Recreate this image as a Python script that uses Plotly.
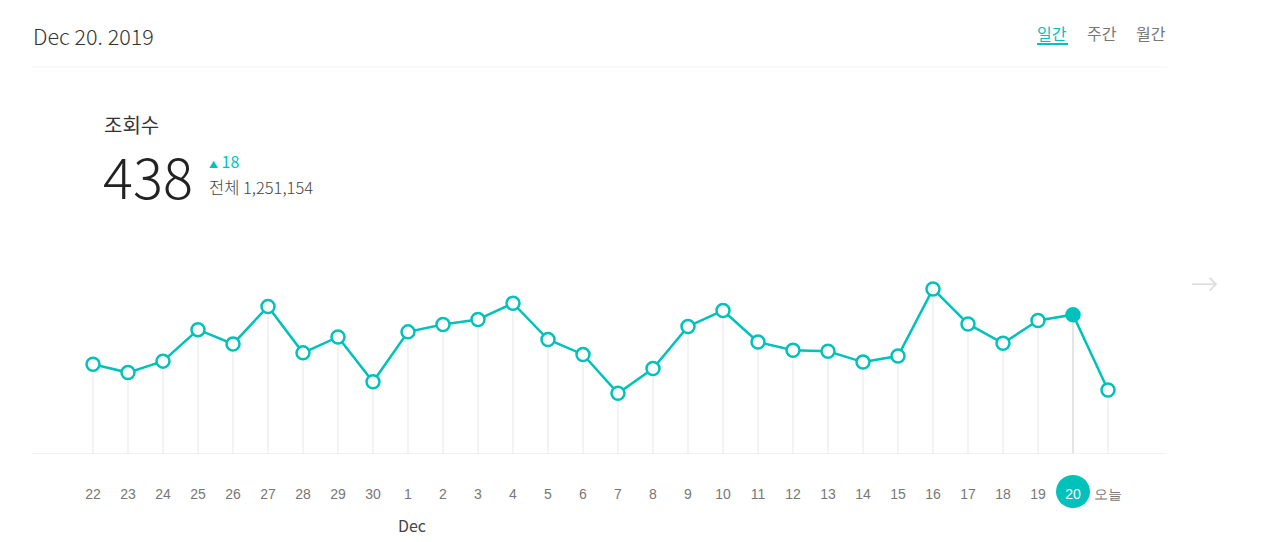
import plotly.graph_objects as go

# ---- data ----
day_labels = ["22", "23", "24", "25", "26", "27", "28", "29", "30", "1", "2", "3", "4", "5", "6",
              "7", "8", "9", "10", "11", "12", "13", "14", "15", "16", "17", "18", "19", "20", "오늘"]
views = [282, 256, 292, 391, 346, 464, 318, 368, 227, 384, 407, 423, 474, 360, 313,
         191, 269, 401, 451, 352, 326, 323, 289, 308, 519, 409, 348, 420, 438, 201]
selected_label = "20"
header_date = "Dec 20. 2019"
month_label = "Dec"
month_start_label = "1"
tabs = ["일간", "주간", "월간"]
metric_title = "조회수"
metric_value = "438"
metric_delta = "18"
metric_total = "전체 1,251,154"

TEAL = "#00c2bb"
FONT_KR = "Noto Sans CJK KR"
FONT_TICK = "Liberation Sans"

OFF = 8  # page body margin
W, H = 1280 - OFF, 542 - OFF
L, T = 32 - OFF, 250 - OFF
R = W - (1167 - OFF)
B = H - (454 - OFF)
PW, PH = W - L - R, H - T - B


def px(x):
    # reference-picture pixel x -> paper fraction
    return (x - OFF - L) / PW


def py(y):
    # reference-picture pixel y -> paper fraction
    return (H - B - (y - OFF)) / PH


xs = list(range(len(views)))
sel = day_labels.index(selected_label)
x_range = [(32 - 93) / 35, (1167 - 93) / 35]

fig = go.Figure()

# vertical drop lines
for i, v in zip(xs, views):
    fig.add_trace(go.Scatter(
        x=[i, i], y=[0, v], mode="lines",
        line=dict(color="#dcdcdc" if i == sel else "#efefef", width=1.5),
        hoverinfo="skip", showlegend=False))

# main line
fig.add_trace(go.Scatter(
    x=xs, y=views, mode="lines+markers",
    line=dict(color=TEAL, width=2.5),
    marker=dict(size=13, symbol="circle",
                color=[TEAL if i == sel else "white" for i in xs],
                line=dict(color=TEAL, width=2.5)),
    showlegend=False))

ticktext = [f"<span style='color:white'>{t}</span>" if t == selected_label else t for t in day_labels]

fig.update_xaxes(
    range=x_range,
    tickmode="array", tickvals=xs, ticktext=ticktext,
    tickfont=dict(family=FONT_TICK, size=14, color="#777777"),
    showgrid=False, zeroline=False, showline=False, ticks="",
    ticklabelstandoff=30, fixedrange=True)
fig.update_yaxes(range=[0, PH * 438 / 139.3], showgrid=False, zeroline=False,
                 showticklabels=False, showline=False, fixedrange=True)

sel_paper_x = (sel - x_range[0]) / (x_range[1] - x_range[0])
r_px = 17
shapes = [
    # baseline
    dict(type="line", xref="paper", yref="y", x0=0, x1=1, y0=0, y1=0,
         line=dict(color="#eeeeee", width=1.5)),
    # header separator
    dict(type="line", xref="paper", yref="paper", x0=0, x1=1, y0=py(67), y1=py(67),
         line=dict(color="#f3f3f3", width=1)),
    # selected day circle
    dict(type="circle", xref="paper", yref="paper",
         x0=sel_paper_x - r_px / PW, x1=sel_paper_x + r_px / PW,
         y0=py(491.5 + 16.5), y1=py(491.5 - 16.5),
         fillcolor=TEAL, line=dict(width=0), layer="below"),
    # tab underline
    dict(type="line", xref="paper", yref="paper", x0=px(1037), x1=px(1068), y0=py(44), y1=py(44),
         line=dict(color=TEAL, width=2)),
]

annotations = [
    dict(text=header_date, x=px(31), y=py(35), xanchor="left", yanchor="middle",
         font=dict(family=FONT_KR, size=21.5, color="#333333", weight=300)),
    dict(text=tabs[0], x=px(1052), y=py(33), xanchor="center", yanchor="middle",
         font=dict(family=FONT_KR, size=16, color=TEAL)),
    dict(text=tabs[1], x=px(1102), y=py(33), xanchor="center", yanchor="middle",
         font=dict(family=FONT_KR, size=16, color="#777777")),
    dict(text=tabs[2], x=px(1151), y=py(33), xanchor="center", yanchor="middle",
         font=dict(family=FONT_KR, size=16, color="#777777")),
    dict(text=metric_title, x=px(102), y=py(125), xanchor="left", yanchor="middle",
         font=dict(family=FONT_KR, size=20, color="#333333")),
    dict(text=metric_value, x=px(101), y=py(174), xanchor="left", yanchor="middle",
         height=60, valign="middle",
         font=dict(family=FONT_KR, size=56, color="#222222", weight=300)),
    dict(text=f"<span style='font-size:9px'>▲</span> {metric_delta}", x=px(207), y=py(161),
         xanchor="left", yanchor="middle",
         font=dict(family=FONT_KR, size=16, color=TEAL)),
    dict(text=metric_total, x=px(207), y=py(187), xanchor="left", yanchor="middle",
         font=dict(family=FONT_KR, size=16.5, color="#444444", weight=300)),
    dict(text="→", x=px(1204), y=py(283), xanchor="center", yanchor="middle",
         font=dict(family="DejaVu Sans", size=34, color="#dddddd", weight=200)),
    dict(text=month_label, xref="x", x=day_labels.index(month_start_label) + 0.1, y=py(525),
         xanchor="center", yanchor="middle",
         font=dict(family=FONT_KR, size=16, color="#444444")),
]
for a in annotations:
    a.setdefault("xref", "paper")
    a.setdefault("yref", "paper")
    a["showarrow"] = False

fig.update_layout(
    width=W, height=H, margin=dict(l=L, r=R, t=T, b=B),
    paper_bgcolor="white", plot_bgcolor="white",
    shapes=shapes, annotations=annotations, hovermode=False)

fig.write_html("out.html")
